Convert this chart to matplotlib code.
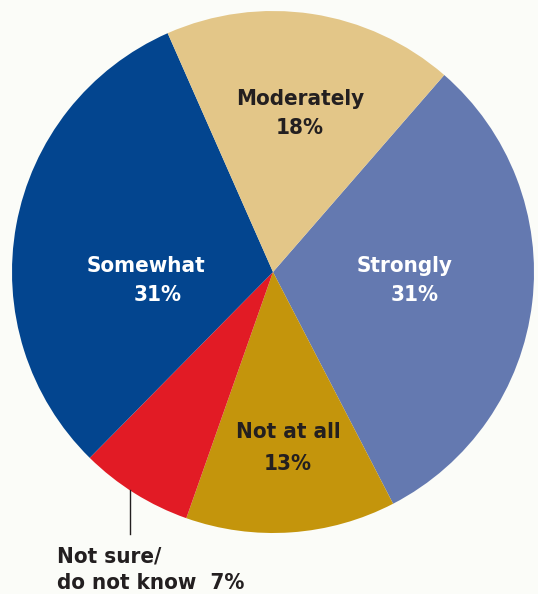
import matplotlib
matplotlib.use("Agg")
import matplotlib.pyplot as plt
from matplotlib import font_manager as fm

# pick a condensed/narrow bold font if one is installed
cand = None
for key in ["LiberationSansNarrow-Bold", "DejaVuSansCondensed-Bold", "Condensed-Bold",
            "CondensedBold", "Narrow-Bold", "SemiCondensed-Bold"]:
    for f in fm.fontManager.ttflist:
        if key.lower() in f.fname.replace(" ", "").lower():
            cand = f.fname
            break
    if cand:
        break
if cand:
    FP = fm.FontProperties(fname=cand)
    fs = 16
else:
    FP = fm.FontProperties(family="DejaVu Sans", weight="bold")
    fs = 14.5

categories = ["Strongly", "Not at all", "Not sure/\ndo not know", "Somewhat", "Moderately"]
values = [31, 13, 7, 31, 18]
colors = ["#6479B0", "#C4950C", "#E21B25", "#03458F", "#E3C688"]

W, H = 538, 594
fig = plt.figure(figsize=(W / 100, H / 100), dpi=100)
bg = "#FBFCF8"
fig.patch.set_facecolor(bg)

cx, cy, r = 273, 272, 261
ax = fig.add_axes([(cx - r) / W, (H - cy - r) / H, 2 * r / W, 2 * r / H])
ax.axis("off")

ax.pie(values, colors=colors, startangle=49, counterclock=False, radius=1,
       center=(0, 0), wedgeprops=dict(linewidth=0), frame=False)
ax.set_xlim(-1, 1)
ax.set_ylim(-1, 1)

def px(x, y):
    return ((x - cx) / r, (cy - y) / r)

FP.set_size(fs)
lab = dict(fontproperties=FP, ha="center", va="center")
ax.text(*px(300, 99), "Moderately", color="#231F20", **lab)
ax.text(*px(300, 128), f"{values[4]}%", color="#231F20", **lab)
ax.text(*px(405, 266), "Strongly", color="white", **lab)
ax.text(*px(415, 295), f"{values[0]}%", color="white", **lab)
ax.text(*px(146, 266), "Somewhat", color="white", **lab)
ax.text(*px(158, 295), f"{values[3]}%", color="white", **lab)
ax.text(*px(288, 432), "Not at all", color="#231F20", **lab)
ax.text(*px(288, 464), f"{values[1]}%", color="#231F20", **lab)

# leader line for Not sure
x0, y0 = px(130, 490)
x1, y1 = px(130, 534)
ax.plot([x0, x1], [y0, y1], color="#231F20", lw=1, clip_on=False)

fig.text(57 / W, 1 - 556 / H, "Not sure/", color="#231F20", fontproperties=FP,
         ha="left", va="center")
fig.text(57 / W, 1 - 583 / H, f"do not know  {values[2]}%", color="#231F20",
         fontproperties=FP, ha="left", va="center")

fig.savefig("out.png", dpi=100, facecolor=bg)
